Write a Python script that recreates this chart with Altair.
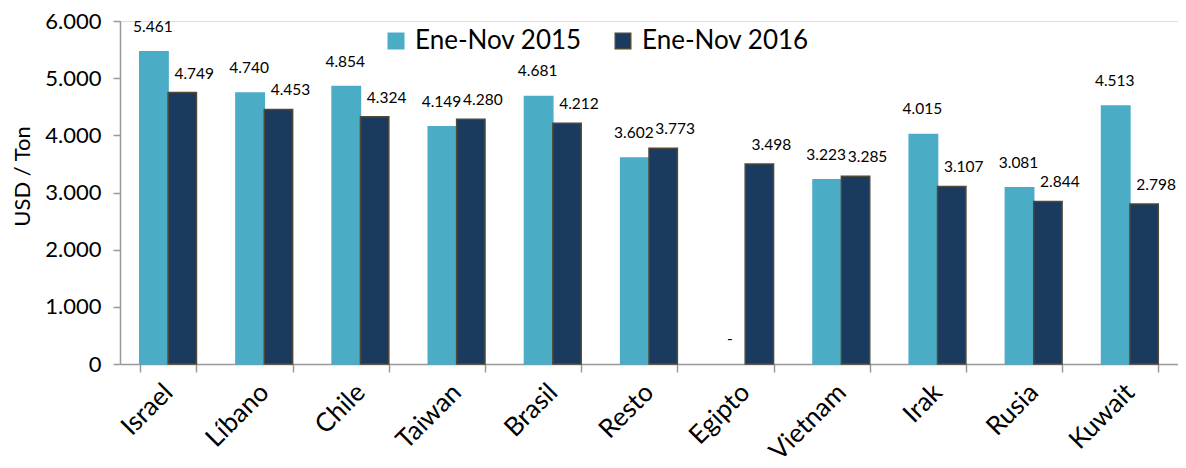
import altair as alt
import pandas as pd

countries = ["Israel", "Líbano", "Chile", "Taiwan", "Brasil", "Resto",
             "Egipto", "Vietnam", "Irak", "Rusia", "Kuwait"]
v2015 = [5461, 4740, 4854, 4149, 4681, 3602, None, 3223, 4015, 3081, 4513]
v2016 = [4749, 4453, 4324, 4280, 4212, 3773, 3498, 3285, 3107, 2844, 2798]
series = ["Ene-Nov 2015", "Ene-Nov 2016"]
colors = ["#4BACC6", "#1B3A5F"]
strokes = ["#4BACC6", "#4F4A36"]

rows = []
for c, a, b in zip(countries, v2015, v2016):
    rows.append({"pais": c, "serie": series[0], "valor": a})
    rows.append({"pais": c, "serie": series[1], "valor": b})
df = pd.DataFrame(rows)

FONT = "Lato"

x = alt.X("pais:N", sort=countries, title=None,
          scale=alt.Scale(paddingInner=0.41, paddingOuter=0.205),
          axis=alt.Axis(labelAngle=-45, labelAlign="right", labelBaseline="middle",
                        labelFontSize=26, labelFont=FONT, labelColor="#000",
                        labelPadding=16, tickBand="extent", tickSize=8,
                        tickColor="#999", domainColor="#999", domainWidth=1.5,
                        tickWidth=1.5))
y = alt.Y("valor:Q", title="USD / Ton",
          scale=alt.Scale(domain=[0, 6000]),
          axis=alt.Axis(values=[0, 1000, 2000, 3000, 4000, 5000, 6000],
                        labelExpr="replace(format(datum.value, ','), ',', '.')",
                        labelFontSize=22, labelFont=FONT, labelColor="#000",
                        labelPadding=12, tickSize=7, tickColor="#999",
                        domainColor="#999", domainWidth=1.5, tickWidth=1.5,
                        grid=False, titleFont=FONT, titleFontSize=22,
                        titleFontWeight="normal", titleColor="#000",
                        titlePadding=10, titleY=155))

base = alt.Chart(df).encode(
    x=x,
    xOffset=alt.XOffset("serie:N", sort=series),
)

bars = base.mark_bar(strokeWidth=1.5).encode(
    y=y,
    color=alt.Color("serie:N", sort=series, title=None,
                    scale=alt.Scale(domain=series, range=colors),
                    legend=alt.Legend(orient="none", legendX=263, legendY=7,
                                      direction="horizontal", symbolType="square",
                                      symbolSize=240, labelFontSize=26,
                                      labelFont=FONT, labelColor="#000",
                                      labelLimit=0,
                                      columnPadding=28, symbolStrokeWidth=1.5,
                                      labelOffset=6)),
    stroke=alt.Stroke("serie:N", sort=series, title=None,
                      scale=alt.Scale(domain=series, range=strokes)),
)

labels = base.transform_calculate(
    txt="datum.valor == null ? '-' : replace(format(datum.valor, ','), ',', '.')",
    ypos="datum.valor == null ? 0 : datum.valor",
)

t2015 = labels.transform_filter(alt.datum.serie == series[0]).mark_text(
    baseline="bottom", dy=-17, dx=-1, fontSize=15.5, font=FONT, color="#000"
).encode(y=alt.Y("ypos:Q"), text="txt:N")

t2016 = labels.transform_filter(alt.datum.serie == series[1]).mark_text(
    baseline="bottom", dy=-11, dx=12, fontSize=15.5, font=FONT, color="#000"
).encode(y=alt.Y("ypos:Q"), text="txt:N")

chart = alt.layer(bars, t2015, t2016).properties(
    width=1058, height=343,
    autosize=alt.AutoSizeParams(type="none"),
    padding={"left": 112, "top": 13, "right": 0, "bottom": 104},
).configure_view(stroke=None).configure(font=FONT)

chart.save("out.html", embed_options={"renderer": "svg", "actions": False})
